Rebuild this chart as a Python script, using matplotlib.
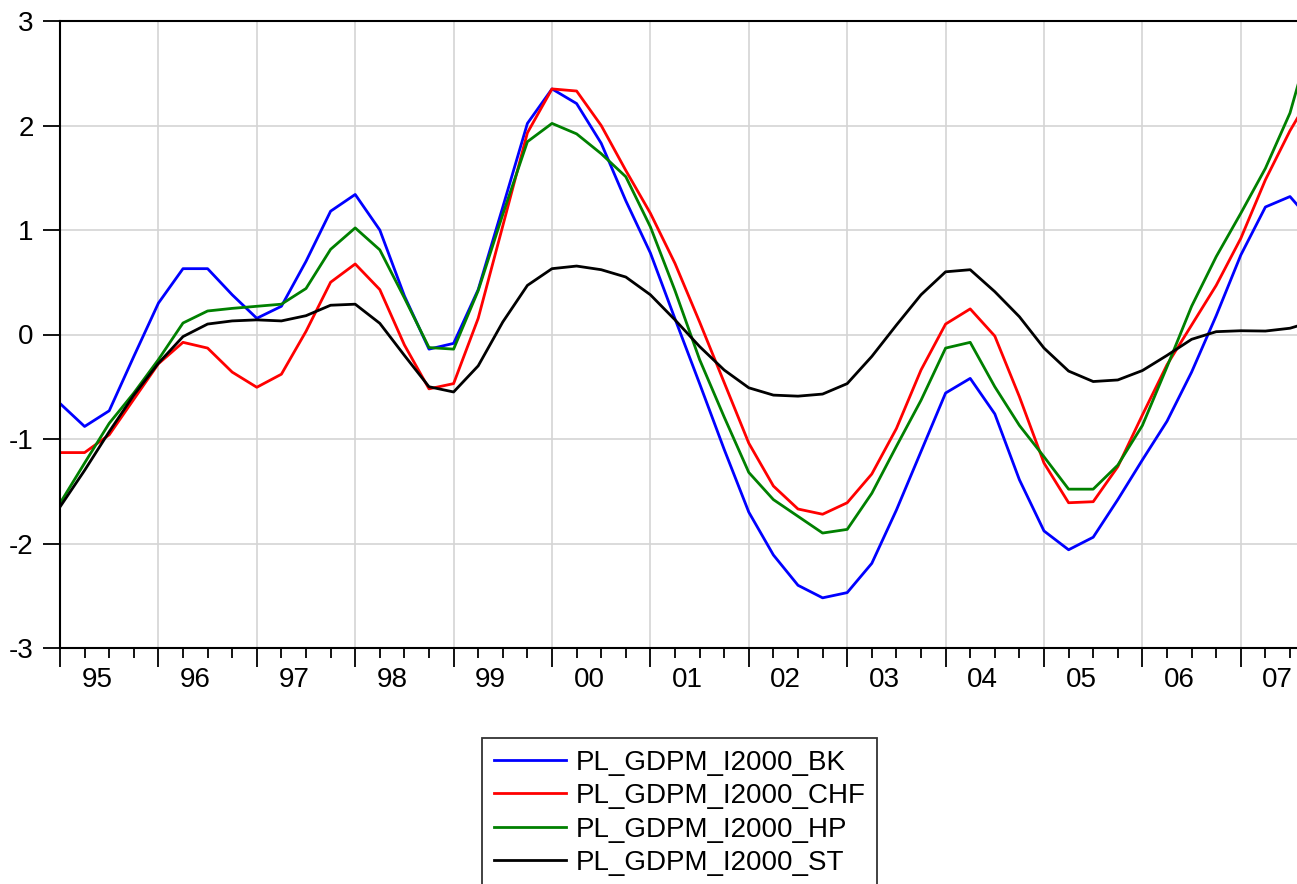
import numpy as np
import matplotlib.pyplot as plt

plt.rcParams['font.family'] = ['Liberation Sans', 'DejaVu Sans']

# Quarterly series, 1995Q1 - 2007Q4
years = ['95', '96', '97', '98', '99', '00', '01', '02', '03', '04', '05', '06', '07']

bk = [-0.66, -0.88, -0.73, -0.21, 0.30, 0.63, 0.63, 0.38, 0.155, 0.27, 0.70, 1.18,
      1.34, 1.00, 0.37, -0.14, -0.085, 0.43, 1.22, 2.02, 2.35, 2.21, 1.83, 1.28,
      0.78, 0.15, -0.47, -1.10, -1.70, -2.11, -2.40, -2.52, -2.47, -2.19, -1.68, -1.12,
      -0.56, -0.42, -0.76, -1.39, -1.88, -2.06, -1.94, -1.58, -1.20, -0.83, -0.36, 0.18,
      0.76, 1.22, 1.32, 1.05]
chf = [-1.13, -1.13, -0.96, -0.62, -0.28, -0.075, -0.13, -0.36, -0.505, -0.38, 0.03, 0.50,
       0.675, 0.43, -0.10, -0.52, -0.47, 0.155, 1.04, 1.93, 2.35, 2.33, 2.00, 1.57,
       1.16, 0.68, 0.12, -0.46, -1.04, -1.45, -1.67, -1.72, -1.61, -1.335, -0.90, -0.34,
       0.10, 0.245, -0.015, -0.595, -1.23, -1.61, -1.60, -1.265, -0.77, -0.29, 0.09, 0.47,
       0.92, 1.48, 1.95, 2.35]
hp = [-1.615, -1.23, -0.85, -0.56, -0.24, 0.11, 0.225, 0.25, 0.27, 0.29, 0.44, 0.815,
      1.02, 0.81, 0.35, -0.125, -0.14, 0.42, 1.15, 1.845, 2.02, 1.92, 1.73, 1.51,
      1.03, 0.42, -0.24, -0.79, -1.32, -1.58, -1.74, -1.90, -1.865, -1.52, -1.07, -0.63,
      -0.13, -0.075, -0.50, -0.87, -1.17, -1.48, -1.48, -1.25, -0.87, -0.31, 0.27, 0.745,
      1.16, 1.59, 2.12, 2.95]
st = [-1.65, -1.30, -0.93, -0.58, -0.275, -0.02, 0.10, 0.13, 0.14, 0.13, 0.18, 0.28,
      0.29, 0.107, -0.20, -0.50, -0.55, -0.30, 0.12, 0.47, 0.63, 0.655, 0.62, 0.55,
      0.38, 0.14, -0.115, -0.34, -0.51, -0.58, -0.59, -0.57, -0.47, -0.21, 0.09, 0.38,
      0.60, 0.62, 0.41, 0.17, -0.13, -0.35, -0.45, -0.435, -0.345, -0.20, -0.046, 0.027,
      0.036, 0.033, 0.06, 0.13]

names = ['PL_GDPM_I2000_BK', 'PL_GDPM_I2000_CHF', 'PL_GDPM_I2000_HP', 'PL_GDPM_I2000_ST']
colors = ['#0000ff', '#ff0000', '#008000', '#000000']

W, H = 1297, 884
fig = plt.figure(figsize=(W / 100, H / 100), dpi=100)
ax = fig.add_axes([60 / W, 1 - 648 / H, 1 - 60 / W, (648 - 21) / H])

q = np.arange(len(bk))
for series, name, c in zip([bk, chf, hp, st], names, colors):
    ax.plot(q, series, color=c, lw=2.0, label=name)

# year boundaries as major ticks, quarters as minor
ax.set_xticks(np.arange(0, len(bk), 4))
ax.set_xticklabels([])
ax.set_xticks(np.arange(0, len(bk)), minor=True)
ax.tick_params(axis='x', which='major', length=14, width=1.3, direction='out')
ax.tick_params(axis='x', which='minor', length=7, width=1.3, direction='out')

ax.set_yticks(np.arange(-3, 4, 1))
ax.set_yticklabels([str(v) for v in range(-3, 4)], fontsize=20)
ax.tick_params(axis='y', length=12, width=1.3, pad=7)

# limits last, set_xticks would widen them otherwise
ax.set_xlim(0, (W - 60) / 24.6)
ax.set_ylim(-3, 3)

# year labels sit between Q2 and Q3
for k, yr in enumerate(years):
    ax.text(4 * k + 1.5, -3.31, yr, ha='center', va='center', fontsize=20)

ax.grid(True, color='#d4d4d4', lw=1.2)
ax.set_axisbelow(True)
ax.spines['right'].set_visible(False)
for s in ['left', 'top', 'bottom']:
    ax.spines[s].set_linewidth(1.5)

handles, labels = ax.get_legend_handles_labels()
leg = fig.legend(handles, labels, loc='upper left',
                 bbox_to_anchor=(482 / W, 1 - 738 / H), fontsize=20,
                 frameon=True, fancybox=False, edgecolor='black',
                 handlelength=2.6, handletextpad=0.35, labelspacing=0.27,
                 borderpad=0.42, borderaxespad=0)
leg.get_frame().set_linewidth(1.3)

fig.savefig('out.png', dpi=100)
